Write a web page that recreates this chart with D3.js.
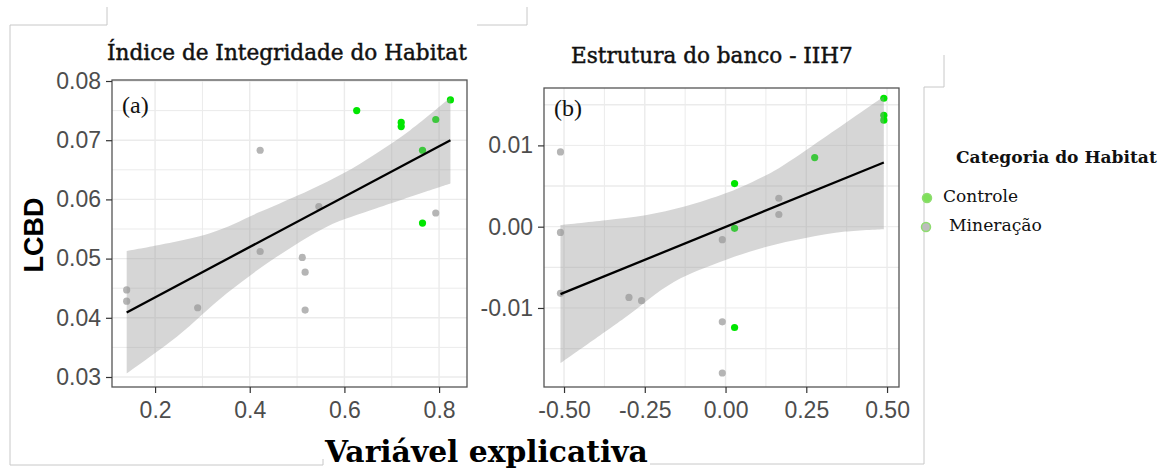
<!DOCTYPE html>
<html>
<head>
<meta charset="utf-8">
<script src="https://cdn.jsdelivr.net/npm/d3@7"></script>
<style>
  body { margin: 0; background: #fff; }
  svg { display: block; }
</style>
</head>
<body>
<div id="chart"></div>
<script>
// ticks
var xTicksA = [0.2, 0.4, 0.6, 0.8];
var yTicksA = [0.03, 0.04, 0.05, 0.06, 0.07, 0.08];
var xTicksB = [-0.5, -0.25, 0, 0.25, 0.5];
var yTicksB = [-0.01, 0, 0.01];

// panel (a) points
var habitatA = ["Mineração", "Mineração", "Mineração", "Mineração", "Mineração", "Mineração", "Mineração", "Mineração", "Mineração", "Mineração",
  "Controle", "Controle", "Controle", "Controle", "Controle", "Controle", "Controle"];
var xA = [0.140, 0.140, 0.290, 0.422, 0.422, 0.511, 0.517, 0.517, 0.546, 0.793,
  0.626, 0.720, 0.720, 0.765, 0.793, 0.824, 0.765];
var yA = [0.0447, 0.0428, 0.0417, 0.0683, 0.0512, 0.0502, 0.0477, 0.0413, 0.0588, 0.0577,
  0.0750, 0.0730, 0.0723, 0.0683, 0.0735, 0.0768, 0.0560];

// panel (b) points
var habitatB = habitatA.slice();
var xB = [-0.511, -0.511, -0.511, -0.299, -0.260, -0.010, -0.010, -0.010, 0.165, 0.165,
  0.028, 0.028, 0.028, 0.276, 0.490, 0.490, 0.490];
var yB = [0.0092, -0.0007, -0.0082, -0.0087, -0.0091, -0.0016, -0.0117, -0.0180, 0.0035, 0.0015,
  0.0053, -0.0002, -0.0124, 0.0085, 0.0158, 0.0137, 0.0131];

// fitted lines
var fitAx = [0.140, 0.824], fitAy = [0.0409, 0.0700];
var fitBx = [-0.511, 0.490], fitBy = [-0.0083, 0.0079];

// confidence bands
var bandAUpX = [0.140, 0.316, 0.422, 0.527, 0.598, 0.668, 0.739, 0.824];
var bandAUpY = [0.0513, 0.0543, 0.0579, 0.0616, 0.0644, 0.0678, 0.0717, 0.0772];
var bandALoX = [0.140, 0.246, 0.351, 0.457, 0.563, 0.668, 0.824];
var bandALoY = [0.0306, 0.0368, 0.0441, 0.0503, 0.0554, 0.0585, 0.0627];
var bandBUpX = [-0.511, -0.371, -0.248, -0.124, 0.0, 0.083, 0.165, 0.304, 0.490];
var bandBUpY = [0.0002, 0.0008, 0.0014, 0.0025, 0.0041, 0.0055, 0.0072, 0.0109, 0.0160];
var bandBLoX = [-0.511, -0.315, -0.160, 0.0, 0.124, 0.248, 0.371, 0.490];
var bandBLoY = [-0.0168, -0.0113, -0.0068, -0.0041, -0.0025, -0.0014, -0.0006, -0.0003];

var categories = ["Controle", "Mineração"];
var colors = { "Controle": "#00e600", "Mineração": "#b5b5b5" };

var svg = d3.select("#chart").append("svg")
  .attr("width", 1173).attr("height", 471);

// fit a text element to a given width by changing its font size
function fitText(t, w) {
  var size = parseFloat(t.attr("font-size"));
  var len = t.node().getComputedTextLength();
  t.attr("font-size", size * w / len);
}

// leftover frame lines from the composed figure
var frame = ["M10,25V465H323V459", "M10,25H107V7", "M477,25H527V7", "M650,464H924V87H944V55"];
svg.selectAll("path.frame").data(frame).enter().append("path")
  .attr("d", function (d) { return d; })
  .attr("fill", "none").attr("stroke", "#c8c8c8").attr("stroke-width", 1);

var fmt = function (dec) {
  return function (d) { return d.toFixed(dec); };  // plain hyphen minus like ggplot
};

function panel(opt) {
  var x = d3.scaleLinear().domain(opt.xd).range([opt.left, opt.right]);
  var y = d3.scaleLinear().domain(opt.yd).range([opt.bottom, opt.top]);
  var g = svg.append("g");

  // grid
  g.selectAll(".gx").data(opt.xGrid).enter().append("line")
    .attr("x1", function (d) { return x(d); }).attr("x2", function (d) { return x(d); })
    .attr("y1", opt.top).attr("y2", opt.bottom)
    .attr("stroke", "#ebebeb").attr("stroke-width", function (d, i) { return i % 2 ? 1 : 1.4; });
  g.selectAll(".gy").data(opt.yGrid).enter().append("line")
    .attr("y1", function (d) { return y(d); }).attr("y2", function (d) { return y(d); })
    .attr("x1", opt.left).attr("x2", opt.right)
    .attr("stroke", "#ebebeb").attr("stroke-width", function (d, i) { return i % 2 ? 1 : 1.4; });

  // points
  g.selectAll("circle").data(opt.px).enter().append("circle")
    .attr("cx", function (d) { return x(d); })
    .attr("cy", function (d, i) { return y(opt.py[i]); })
    .attr("r", 3.6)
    .attr("fill", function (d, i) { return colors[opt.cat[i]]; });

  // band: upper edge left->right, lower edge right->left
  var up = opt.bux.map(function (d, i) { return [x(d), y(opt.buy[i])]; });
  var lo = opt.blx.map(function (d, i) { return [x(d), y(opt.bly[i])]; }).reverse();
  var line = d3.line().curve(d3.curveCatmullRom.alpha(0.5));
  g.append("path")
    .attr("d", line(up) + line(lo).replace(/^M/, "L") + "Z")
    .attr("fill", "#999").attr("opacity", 0.4);

  // fit line
  g.append("line")
    .attr("x1", x(opt.fx[0])).attr("y1", y(opt.fy[0]))
    .attr("x2", x(opt.fx[1])).attr("y2", y(opt.fy[1]))
    .attr("stroke", "#000").attr("stroke-width", 2.3);

  // border
  g.append("rect")
    .attr("x", opt.left).attr("y", opt.top)
    .attr("width", opt.right - opt.left).attr("height", opt.bottom - opt.top)
    .attr("fill", "none").attr("stroke", "#555").attr("stroke-width", 1.3);

  // axes
  var ax = g.append("g").attr("transform", "translate(0," + opt.bottom + ")")
    .call(d3.axisBottom(x).tickValues(opt.xTicks).tickSize(6).tickPadding(4).tickFormat(opt.xFmt));
  var ay = g.append("g").attr("transform", "translate(" + opt.left + ",0)")
    .call(d3.axisLeft(y).tickValues(opt.yTicks).tickSize(6).tickPadding(5).tickFormat(opt.yFmt));
  [ax, ay].forEach(function (a) {
    a.select(".domain").remove();
    a.selectAll(".tick line").attr("stroke", "#333").attr("stroke-width", 1.2);
    a.selectAll("text").attr("font-family", "Liberation Sans, Arial, sans-serif")
      .attr("font-size", 23).attr("fill", "#4d4d4d");
  });
  ax.selectAll("text").attr("dy", "0.9em");

  // panel letter
  g.append("text").attr("x", opt.left + 10).attr("y", opt.top + opt.letterY)
    .attr("font-family", "Liberation Serif, serif").attr("font-size", 24)
    .attr("fill", "#111").text(opt.letter);

  // title
  var t = g.append("text").attr("x", opt.titleX).attr("y", opt.titleY)
    .attr("font-family", "DejaVu Serif, serif").attr("font-size", 18)
    .attr("fill", "#111").attr("stroke", "#111").attr("stroke-width", 0.45)
    .text(opt.title);
  fitText(t, opt.titleW);
}

panel({
  xd: [0.109, 0.859], yd: [0.02831, 0.08017],
  left: 112, right: 467, top: 80, bottom: 387,
  xGrid: [0.2, 0.3, 0.4, 0.5, 0.6, 0.7, 0.8],
  yGrid: [0.03, 0.035, 0.04, 0.045, 0.05, 0.055, 0.06, 0.065, 0.07, 0.075, 0.08],
  xTicks: xTicksA, yTicks: yTicksA,
  xFmt: fmt(1), yFmt: fmt(2),
  px: xA, py: yA, cat: habitatA,
  bux: bandAUpX, buy: bandAUpY, blx: bandALoX, bly: bandALoY,
  fx: fitAx, fy: fitAy,
  letter: "(a)", letterY: 33,
  title: "Índice de Integridade do Habitat", titleX: 107, titleY: 60, titleW: 360
});

panel({
  xd: [-0.562, 0.537], yd: [-0.01972, 0.01706],
  left: 544, right: 899, top: 88, bottom: 387,
  xGrid: [-0.5, -0.375, -0.25, -0.125, 0, 0.125, 0.25, 0.375, 0.5],
  yGrid: [-0.015, -0.01, -0.005, 0, 0.005, 0.01, 0.015].reverse(),
  xTicks: xTicksB, yTicks: yTicksB,
  xFmt: fmt(2), yFmt: fmt(2),
  px: xB, py: yB, cat: habitatB,
  bux: bandBUpX, buy: bandBUpY, blx: bandBLoX, bly: bandBLoY,
  fx: fitBx, fy: fitBy,
  letter: "(b)", letterY: 28,
  title: "Estrutura do banco - IIH7", titleX: 571, titleY: 63, titleW: 282
});

// axis titles
var xl = svg.append("text").attr("x", 325).attr("y", 462)
  .attr("font-family", "DejaVu Serif, serif").attr("font-weight", "bold")
  .attr("font-size", 30).attr("fill", "#000").text("Variável explicativa");
fitText(xl, 323);

svg.append("text")
  .attr("transform", "translate(43,235) rotate(-90)")
  .attr("text-anchor", "middle")
  .attr("font-family", "Liberation Sans, Arial, sans-serif").attr("font-weight", "bold")
  .attr("font-size", 27).attr("fill", "#000").text("LCBD");

// legend
var lt = svg.append("text").attr("x", 956).attr("y", 163)
  .attr("font-family", "DejaVu Serif, serif").attr("font-weight", "bold")
  .attr("font-size", 15).attr("fill", "#111").text("Categoria do Habitat");
fitText(lt, 201);

var legPos = [{ cx: 927, cy: 198, tx: 943, ty: 202, w: 75 }, { cx: 926, cy: 227, tx: 949, ty: 231, w: 93 }];
var legFill = { "Controle": "#7ee05a", "Mineração": "#bdbdbd" };
categories.forEach(function (c, i) {
  var p = legPos[i];
  svg.append("circle").attr("cx", p.cx).attr("cy", p.cy).attr("r", 4.5)
    .attr("fill", legFill[c]).attr("stroke", "#8fdc70").attr("stroke-width", 1.5);
  var t = svg.append("text").attr("x", p.tx).attr("y", p.ty)
    .attr("font-family", "DejaVu Serif, serif").attr("font-size", 16)
    .attr("fill", "#111").text(c);
  fitText(t, p.w);
});
</script>
</body>
</html>
